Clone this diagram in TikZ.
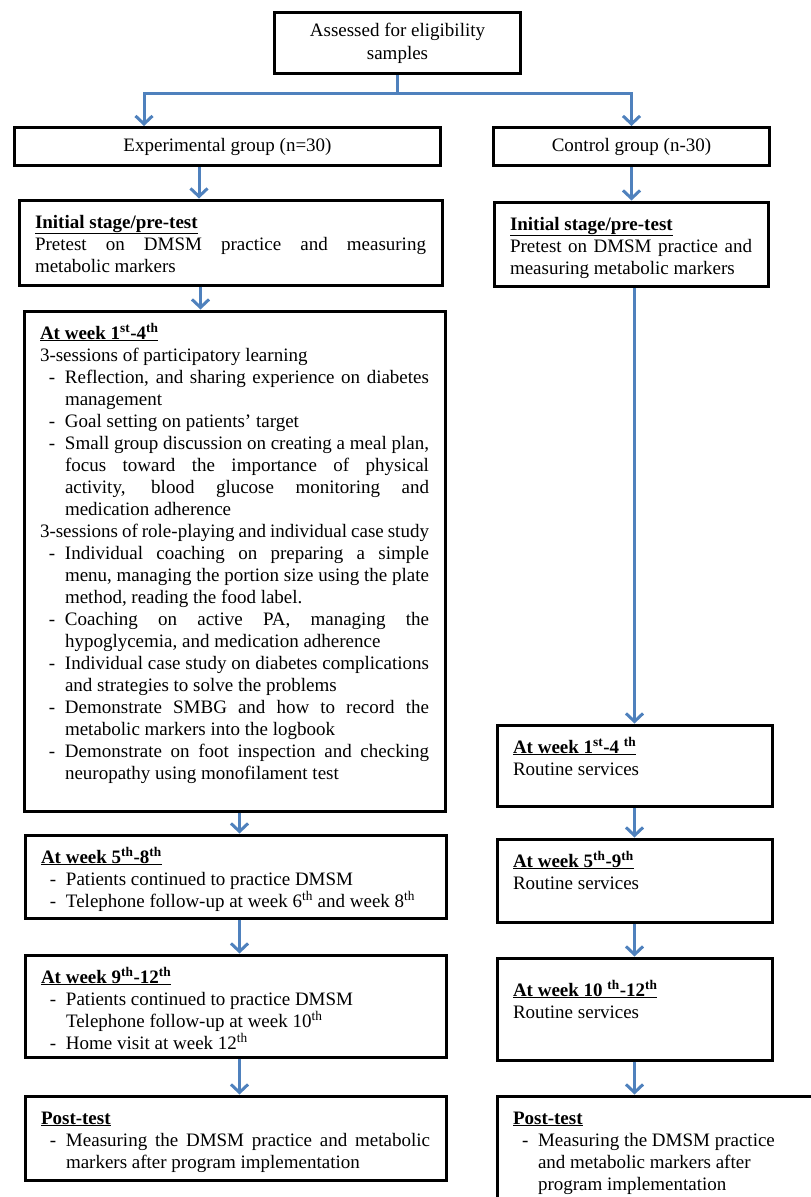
\documentclass[tikz,border=0pt]{standalone}
\usepackage{fontspec}
\setmainfont{Liberation Serif}
\usepackage{tikz}
\usepackage{xcolor}
\usetikzlibrary{arrows.meta,shadows}
\definecolor{flowblue}{RGB}{79,129,189}

\newcommand{\stage}[1]{\textbf{\underline{#1}}}
\newcommand{\dashitem}[1]{\par\hangindent=25pt\hangafter=1\noindent\hbox to 25pt{\hspace{9pt}-\hfil}#1\par}
\newcommand{\nodash}[1]{\par\hangindent=25pt\hangafter=0\noindent #1\par}

\begin{document}
\begin{tikzpicture}[x=1pt,y=-1pt,
  box/.style={draw, line width=3pt, fill=white,
    drop shadow={shadow xshift=1.5pt,shadow yshift=-1.5pt,opacity=0.25},
    anchor=north west, align=justify, inner xsep=16pt, inner ysep=8pt, text height=20pt,
    font=\fontsize{19}{22}\selectfont},
  headbox/.style={draw, line width=3pt, fill=white,
    drop shadow={shadow xshift=1.5pt,shadow yshift=-1.5pt,opacity=0.25},
    align=center, font=\fontsize{19}{23}\selectfont},
  flow/.style={draw=flowblue, line width=3pt, -{Straight Barb[length=8pt,width=17pt]}},
  link/.style={draw=flowblue, line width=3pt}]
\useasboundingbox (0,0) rectangle (811,1197);
\clip (0,0) rectangle (811,1197);

\node[headbox, minimum width=246pt, minimum height=61pt] (assess) at (397.5,43) {Assessed for eligibility\\samples};
\node[headbox, minimum width=426pt, minimum height=38pt] (exp) at (227.5,146.5) {Experimental group (n=30)};
\node[headbox, minimum width=276pt, minimum height=38pt] (ctrl) at (631.5,146.5) {Control group (n-30)};

\node[box, text width=391pt, text depth=49pt] (preL) at (17.5,198.5) {\stage{Initial stage/pre-test}\par
Pretest on DMSM practice and measuring \linebreak metabolic markers};
\node[box, text width=242pt, text depth=48pt] (preR) at (492.5,200.5) {\stage{Initial stage/pre-test}\par
Pretest on DMSM practice and measuring metabolic markers};

\node[box, text width=389pt, text depth=464pt] (wk1L) at (22.5,309.5) {\stage{At week 1\textsuperscript{st}-4\textsuperscript{th}}\par
3-sessions of participatory learning
\dashitem{Reflection, and sharing experience on diabetes \linebreak management}
\dashitem{Goal setting on patients' target}
\dashitem{Small group discussion on creating a meal plan, \linebreak focus toward the importance of physical \linebreak activity, blood glucose monitoring and \linebreak medication adherence}
\noindent 3-sessions of role-playing and individual case study
\dashitem{Individual coaching on preparing a simple \linebreak menu, managing the portion size using the plate \linebreak method, reading the food label.}
\dashitem{Coaching on active PA, managing the \linebreak hypoglycemia, and medication adherence}
\dashitem{Individual case study on diabetes complications \linebreak and strategies to solve the problems}
\dashitem{Demonstrate SMBG and how to record the \linebreak metabolic markers into the logbook}
\dashitem{Demonstrate on foot inspection and checking \linebreak neuropathy using monofilament test}};

\node[box, text width=389pt, text depth=47pt] (wk5L) at (23.5,833.5) {\stage{At week 5\textsuperscript{th}-8\textsuperscript{th}}
\dashitem{Patients continued to practice DMSM}
\dashitem{Telephone follow-up at week 6\textsuperscript{th} and week 8\textsuperscript{th}}};
\node[box, text width=389pt, text depth=66pt] (wk9L) at (23.5,953.5) {\stage{At week 9\textsuperscript{th}-12\textsuperscript{th}}
\dashitem{Patients continued to practice DMSM}
\nodash{Telephone follow-up at week 10\textsuperscript{th}}
\dashitem{Home visit at week 12\textsuperscript{th}}};
\node[box, text width=389pt, text depth=48pt] (postL) at (23.5,1094.5) {\stage{Post-test}
\dashitem{Measuring the DMSM practice and metabolic \linebreak markers after program implementation}};

\node[box, text width=243pt, text depth=45pt] (wk1R) at (495.5,723.5) {\stage{At week 1\textsuperscript{st}-4 \textsuperscript{th}}\par
Routine services};
\node[box, text width=243pt, text depth=47pt] (wk5R) at (495.5,837.5) {\stage{At week 5\textsuperscript{th}-9\textsuperscript{th}}\par
Routine services};
\node[box, text width=243pt, text height=30pt, text depth=56pt] (wk10R) at (495.5,956.5) {\stage{At week 10 \textsuperscript{th}-12\textsuperscript{th}}\par
Routine services};
\node[box, text width=308pt, text depth=84pt] (postR) at (495.5,1094.5) {\stage{Post-test}
\dashitem{Measuring the DMSM practice\hfill\break and metabolic markers after\hfill\break program implementation}};

\coordinate (fork) at (397.5,93);
\draw[link] (assess.south) -- (fork);
\draw[flow] (fork) -| ([xshift=-83.5pt]exp.north);
\draw[flow] (fork) -| (ctrl.north);

\draw[flow] ([xshift=-28.5pt]exp.south) -- ([xshift=-28.5pt]exp.south |- preL.north);
\draw[flow] ([xshift=-30pt]preL.south) -- ([xshift=-30pt]preL.south |- wk1L.north);
\draw[flow] ([xshift=5pt]wk1L.south) -- ([xshift=5pt]wk1L.south |- wk5L.north);
\draw[flow] ([xshift=4pt]wk5L.south) -- ([xshift=4pt]wk5L.south |- wk9L.north);
\draw[flow] ([xshift=4pt]wk9L.south) -- ([xshift=4pt]wk9L.south |- postL.north);

\draw[flow] (ctrl.south) -- (ctrl.south |- preR.north);
\draw[flow] ([xshift=3.5pt]preR.south) -- ([xshift=3.5pt]preR.south |- wk1R.north);
\draw[flow] (wk1R.south) -- (wk5R.north);
\draw[flow] (wk5R.south) -- (wk10R.north);
\draw[flow] (wk10R.south) -- (wk10R.south |- postR.north);
\end{tikzpicture}
\end{document}
